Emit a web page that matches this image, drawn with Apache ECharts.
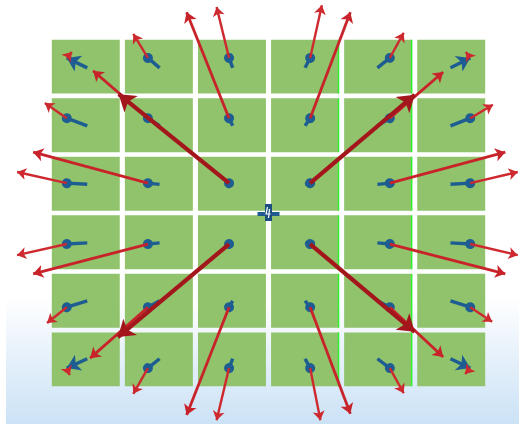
<!DOCTYPE html>
<html>
<head>
<meta charset="utf-8">
<script src="https://cdn.jsdelivr.net/npm/echarts@6/dist/echarts.min.js"></script>
<style>
html, body { margin: 0; padding: 0; background: #ffffff; }
#chart { width: 519px; height: 424px; }
</style>
</head>
<body>
<div id="chart"></div>
<script>
// Floor tiles: left edge of each tile column, top edge of each tile row
const tileCols = [-3, -2, -1, 0, 1, 2];
const tileRows = [3, 2, 1, 0, -1, -2];

// Base of each stem (tile centres on the floor)
const baseX = [-2.48, -1.49, -0.49, 0.50, 1.49, 2.49];
const baseY = [2.48, 1.49, 0.49, -0.51, -1.50, -2.49];

// Raised marker positions where each vector starts
const dotX = [-2.76, -1.65, -0.54, 0.57, 1.66, 2.76];
const dotY = [2.65, 1.62, 0.51, -0.53, -1.61, -2.65];

// Vector tips, one row per grid row (left to right)
const tipX = [
  [-2.69, -1.85, -0.71,  0.73,  1.85,  2.70],
  [-3.06, -2.40, -1.12,  1.12,  2.39,  3.07],
  [-3.44, -3.22, -2.05,  2.00,  3.24,  3.41],
  [-3.44, -3.22, -2.06,  2.00,  3.24,  3.41],
  [-3.03, -2.44, -1.12,  1.12,  2.39,  3.06],
  [-2.72, -1.85, -0.71,  0.71,  1.85,  2.69]
];
const tipY = [
  [ 2.75,  3.06,  3.52,  3.55,  3.08,  2.75],
  [ 1.88,  2.43,  3.43,  3.43,  2.41,  1.85],
  [ 0.70,  1.04,  2.03,  2.02,  1.04,  0.70],
  [-0.72, -1.04, -2.12, -2.03, -1.04, -0.72],
  [-1.88, -2.48, -3.45, -3.43, -2.46, -1.86],
  [-2.77, -3.09, -3.54, -3.54, -3.08, -2.75]
];

// ---- build series data ----
const tileData = [];
tileRows.forEach(r => tileCols.forEach(c => tileData.push([c, r])));

const n = dotX.length;
const isCorner = (i, j) => (i === 0 || i === n - 1) && (j === 0 || j === n - 1);
const isCentre = (i, j) => (i === 2 || i === 3) && (j === 2 || j === 3);

// approximate screen scale of one axis unit, for choosing stroke weights
const SX = 73, SY = 58.5;

const stemData = [];
const vectorData = [];
for (let i = 0; i < n; i++) {
  for (let j = 0; j < n; j++) {
    const corner = isCorner(i, j);
    stemData.push({
      coords: [[baseX[j], baseY[i]], [dotX[j], dotY[i]]],
      symbol: ['none', corner ? 'arrow' : 'circle'],
      symbolSize: [0, corner ? 13 : 10]
    });
    const dx = (tipX[i][j] - dotX[j]) * SX;
    const dy = (tipY[i][j] - dotY[i]) * SY;
    const len = Math.sqrt(dx * dx + dy * dy);
    let w = 2.4, head = 9, col = '#cd292e';
    if (isCentre(i, j)) { w = 4.2; head = 16; col = '#a3161b'; }
    else if (len > 60) { w = 2.8; head = 10; col = '#c8232a'; }
    vectorData.push({
      len: len,
      coords: [[dotX[j], dotY[i]], [tipX[i][j], tipY[i][j]]],
      symbol: ['none', 'arrow'],
      symbolSize: [0, head],
      lineStyle: { width: w, color: col }
    });
  }
}
// longer vectors drawn on top
vectorData.sort((a, b) => a.len - b.len);

const chart = echarts.init(document.getElementById('chart'), null, { renderer: 'canvas' });

chart.setOption({
  animation: false,
  backgroundColor: '#ffffff',
  graphic: [{
    type: 'rect',
    left: 6, top: 0,
    shape: { width: 513, height: 424 },
    silent: true,
    z: -10,
    style: {
      fill: {
        type: 'linear', x: 0, y: 0, x2: 0, y2: 1,
        colorStops: [
          { offset: 0, color: '#ffffff' },
          { offset: 0.7, color: '#ffffff' },
          { offset: 0.82, color: '#eaf3fb' },
          { offset: 1, color: '#cbe2f6' }
        ]
      }
    }
  }],
  grid: { left: 20, right: 2, top: 14, bottom: 12 },
  xAxis: { type: 'value', min: -3.4, max: 3.4, show: false },
  yAxis: { type: 'value', min: -3.4, max: 3.4, show: false },
  series: [
    {
      type: 'custom',
      z: 1,
      silent: true,
      clip: false,
      data: tileData,
      renderItem: function (params, api) {
        const c = api.value(0), r = api.value(1);
        const p0 = api.coord([c + 0.035, r - 0.04]);
        const p1 = api.coord([c + 0.965, r - 0.96]);
        const children = [{
          type: 'rect',
          shape: { x: p0[0], y: p0[1], width: p1[0] - p0[0], height: p1[1] - p0[1] },
          style: { fill: '#91c36c' }
        }];
        if (c === 0 || c === 1) {
          children.push({
            type: 'line',
            shape: { x1: p1[0] - 0.5, y1: p0[1], x2: p1[0] - 0.5, y2: p1[1] },
            style: { stroke: '#2ff22f', lineWidth: 1.5 }
          });
        }
        return { type: 'group', children: children };
      }
    },
    {
      type: 'lines',
      coordinateSystem: 'cartesian2d',
      z: 2,
      silent: true,
      clip: false,
      data: stemData,
      lineStyle: { width: 3.4, color: '#1d5d92', opacity: 1 },
      itemStyle: { color: '#1d5d92' }
    },
    {
      type: 'lines',
      coordinateSystem: 'cartesian2d',
      z: 3,
      silent: true,
      clip: false,
      data: vectorData,
      lineStyle: { opacity: 1 }
    },
    {
      type: 'custom',
      z: 4,
      silent: true,
      data: [[0, 0]],
      renderItem: function (params, api) {
        const p = api.coord([api.value(0), api.value(1)]);
        const x = p[0], y = p[1];
        return {
          type: 'group',
          children: [
            { type: 'rect', shape: { x: x - 11, y: y - 1, width: 22, height: 4 }, style: { fill: '#1f5b8e' } },
            { type: 'rect', shape: { x: x - 3.5, y: y - 9, width: 7, height: 17 }, style: { fill: '#1a4f80' } },
            { type: 'polyline', shape: { points: [[x - 1, y - 6], [x - 2.5, y + 1], [x + 2, y + 1]] }, style: { stroke: '#ffffff', lineWidth: 1.2, fill: null } },
            { type: 'line', shape: { x1: x + 1, y1: y - 4, x2: x, y2: y + 5 }, style: { stroke: '#ffffff', lineWidth: 1.2 } }
          ]
        };
      }
    }
  ]
});
</script>
</body>
</html>
